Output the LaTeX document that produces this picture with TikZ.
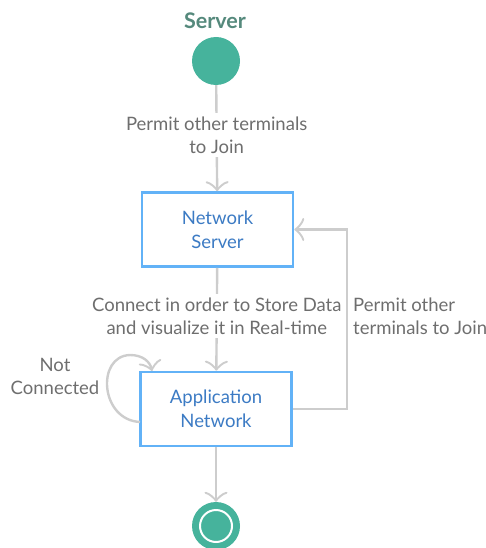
\documentclass[tikz,border=0pt]{standalone}
\usepackage{fontspec}
\setmainfont{Lato}
\usetikzlibrary{arrows.meta}
\definecolor{teal}{HTML}{46B39C}
\definecolor{titlegray}{HTML}{55897C}
\definecolor{boxblue}{HTML}{62B2F7}
\definecolor{boxtext}{HTML}{3C7BC4}
\definecolor{linegray}{HTML}{CDCDCD}
\definecolor{labelgray}{HTML}{6E6E6E}
\tikzset{
  conn/.style={draw=linegray, line width=2.4pt,
    -{Classical TikZ Rightarrow[length=10pt,width=23pt]}},
  lbl/.style={fill=white, text=labelgray, font=\fontsize{18.5}{22.5}\selectfont,
    align=center, inner sep=4pt},
  sidelbl/.style={text=labelgray, font=\fontsize{18.5}{23}\selectfont, inner sep=0pt},
  actbox/.style={draw=boxblue, line width=2.6pt, fill=white, text=boxtext,
    font=\fontsize{18.5}{24}\selectfont, align=center,
    minimum width=151pt, minimum height=74pt},
  startdot/.style={circle, fill=teal, minimum size=48pt, inner sep=0pt},
  enddot/.style={circle, fill=teal, minimum size=48pt, inner sep=0pt},
  titletext/.style={text=titlegray, font=\bfseries\fontsize{21.5}{24}\selectfont}
}
\begin{document}
\begin{tikzpicture}[x=1pt,y=-1pt]
\useasboundingbox (0,0) rectangle (486,548);

% initial state
\node[titletext] (title) at (215,21) {Server};
\node[startdot] (start) at (216,61) {};

% activities
\node[actbox] (ns) at (217.5,229.5) {Network\\Server};
\node[actbox] (an) at (216,409) {Application\\Network};

% final state
\node[enddot] (end) at (216,526) {};
\draw[white, line width=2pt] (end.center) circle[radius=16pt];

% transitions
\draw[conn] (start) -- node[lbl, pos=0.47] (l1) {Permit other terminals\\to Join} (ns);
\draw[conn] (ns) -- node[lbl, pos=0.47] (l2) {Connect in order to Store Data\\and visualize it in Real-time} (an);
\draw[conn] (an) -- (end);

% back to the network server
\coordinate (corner) at (347,409);
\draw[conn] (an.east) -- (corner) |- (ns.east);
\node[sidelbl, anchor=west, align=left] (l3) at (353,316) {Permit other\\terminals to Join};

% self loop
\coordinate (loopstart) at (140,422);
\coordinate (looptop) at (130,355);
\coordinate (loopend) at (152,371);
\draw[conn] (loopstart) .. controls (100,420) and (96,356) .. (looptop)
  .. controls (143,355) and (150,362) .. (loopend);
\node[sidelbl, align=center] (l4) at (55,376) {Not\\Connected};
\end{tikzpicture}
\end{document}
